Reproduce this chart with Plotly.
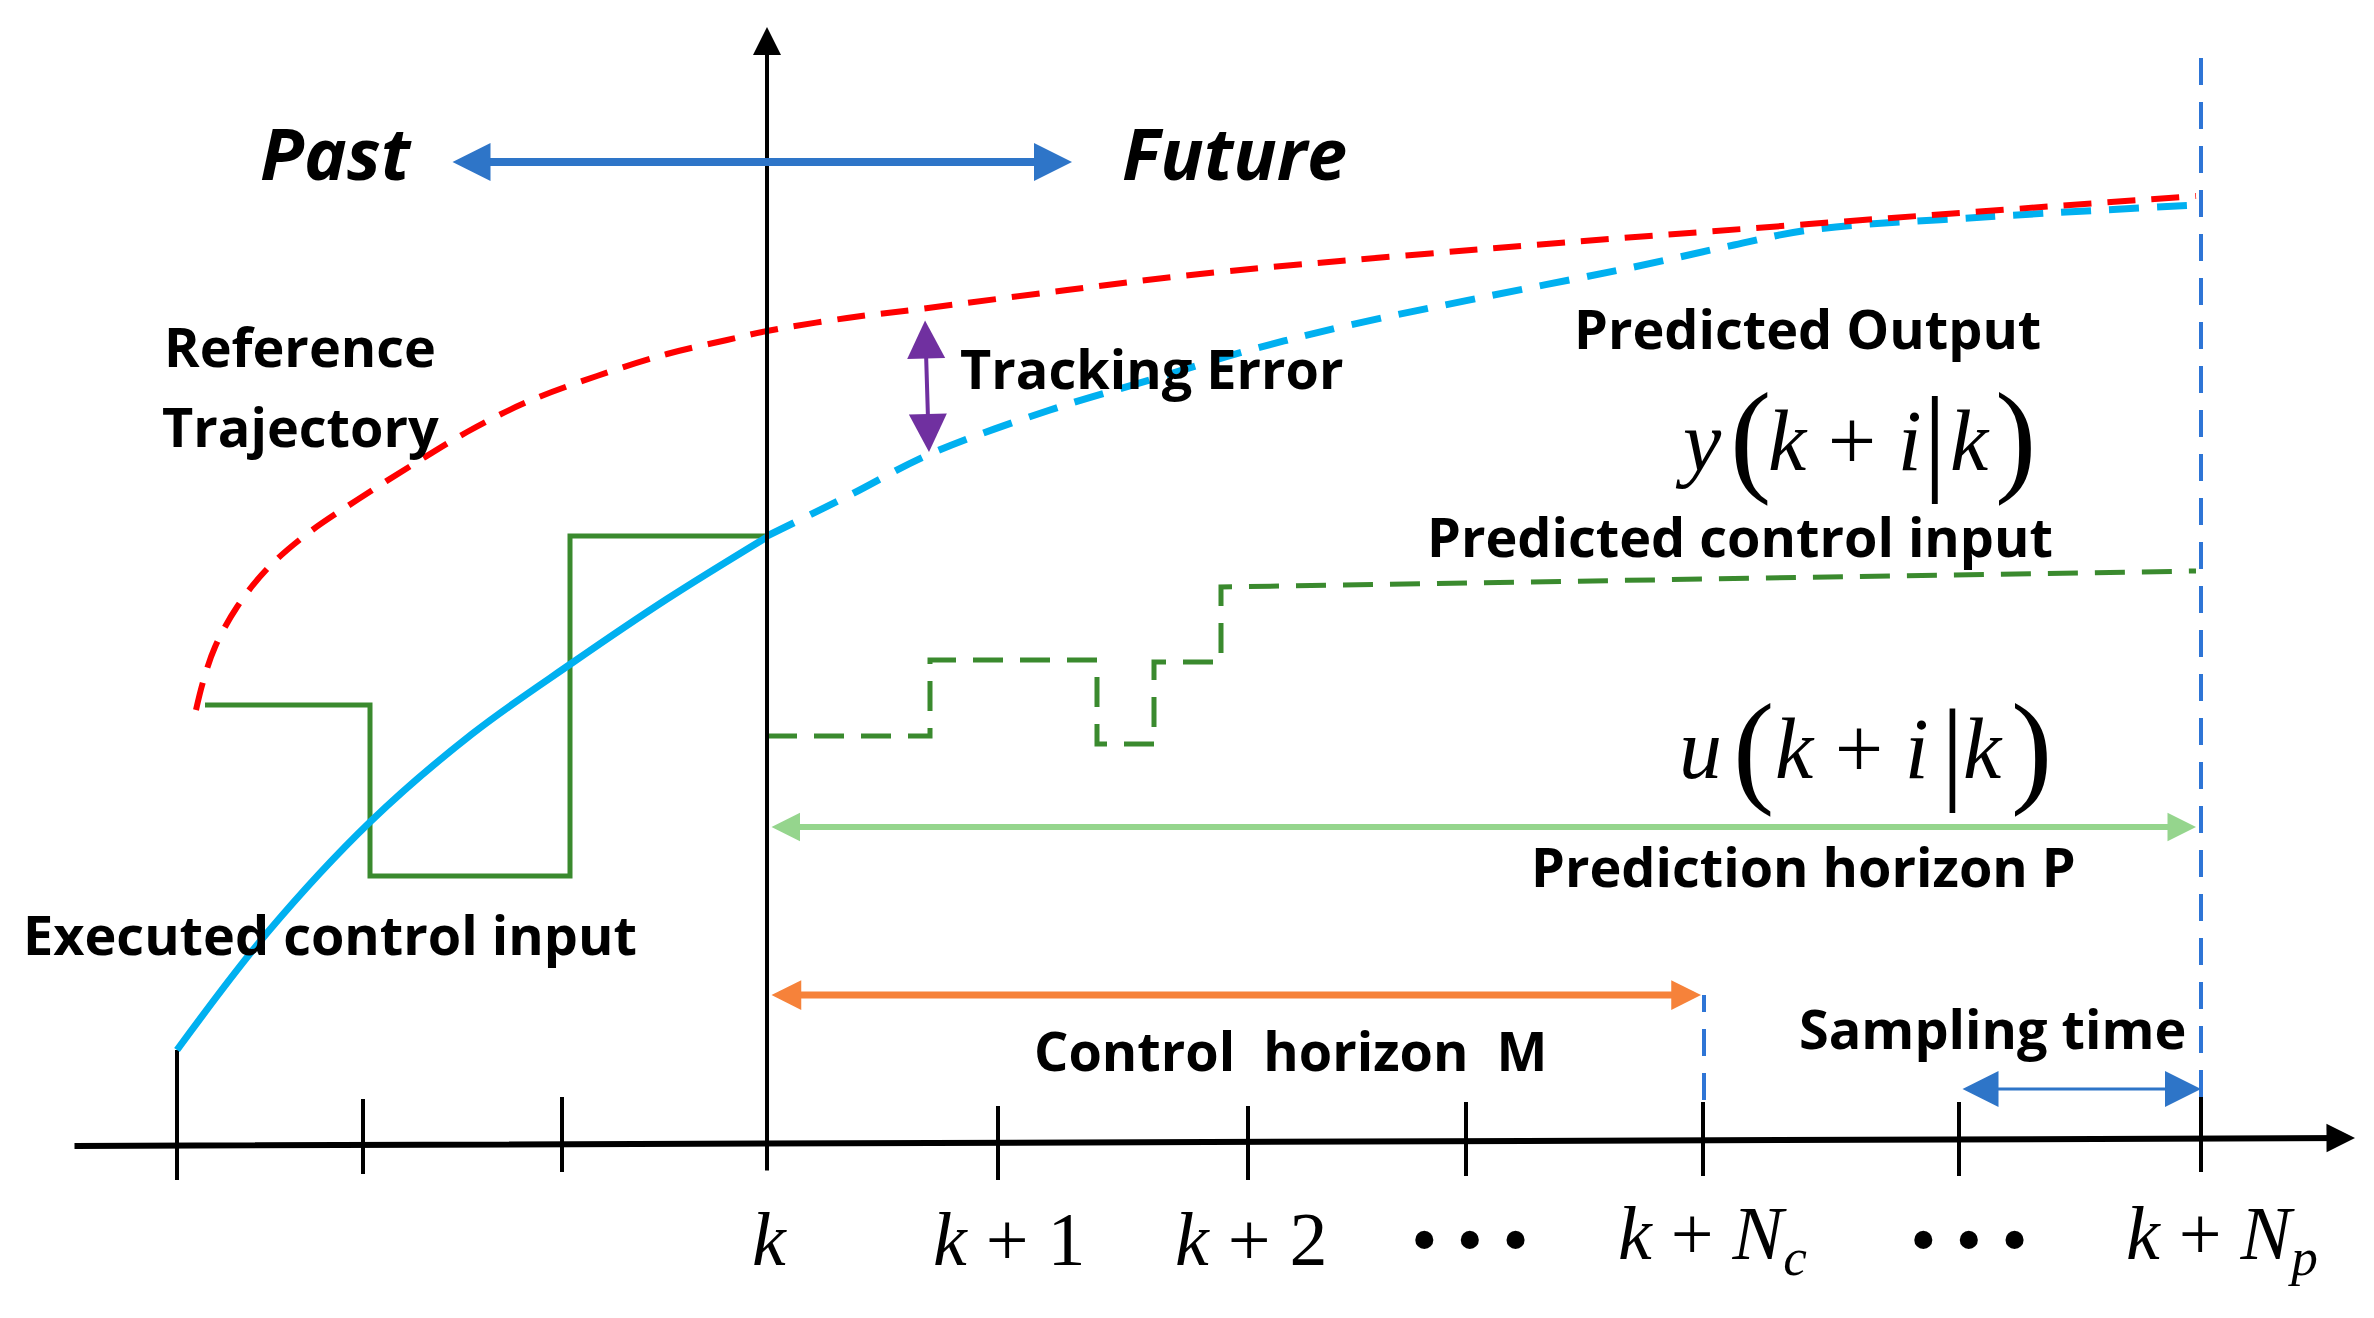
import plotly.graph_objects as go

# drawing units: k sits at t = 0, the time axis at y = 0 (1 unit = 100 px)
sample_t = [-5.90, -4.04, -2.05, 0.0, 2.31, 4.81, 6.99, 9.36, 11.92, 14.34]
tick_top = [0.92, 0.43, 0.45, 0.0, 0.36, 0.36, 0.40, 0.40, 0.40, 0.45]
tick_bot = [-0.38, -0.32, -0.30, 0.0, -0.38, -0.38, -0.34, -0.34, -0.34, -0.30]

label_t = [0.02, 2.42, 4.84, 7.03, 9.45, 12.02, 14.55]
label_text = ["<i>k</i>", "<i>k</i> + 1", "<i>k</i> + 2", "\u2022 \u2022 \u2022",
              "<i>k</i> + <i>N</i><sub><i>c</i></sub>", "\u2022 \u2022 \u2022",
              "<i>k</i> + <i>N</i><sub><i>p</i></sub>"]

# reference trajectory (red dashed)
ref_t = [-5.71, -5.64, -5.52, -5.30, -5.00, -4.60, -4.10, -3.50, -3.00, -2.40, -1.70,
         -1.00, -0.40, 0.0, 0.80, 1.53, 3.00, 4.33, 7.17, 10.42, 14.29]
ref_y = [4.32, 4.60, 4.95, 5.35, 5.73, 6.08, 6.42, 6.80, 7.10, 7.40, 7.66,
         7.88, 8.02, 8.11, 8.24, 8.33, 8.52, 8.68, 8.93, 9.18, 9.46]

# measured output (cyan solid) and predicted output (cyan dashed)
out_past_t = [-5.90, -5.00, -3.97, -2.95, -1.95, -1.00, 0.0]
out_past_y = [0.92, 2.09, 3.20, 4.08, 4.79, 5.43, 6.05]
out_pred_t = [0.0, 0.83, 1.63, 2.83, 3.83, 4.83, 5.83, 7.17, 8.67, 9.67, 10.42, 12.17, 14.29]
out_pred_y = [6.06, 6.47, 6.88, 7.32, 7.62, 7.92, 8.17, 8.45, 8.75, 8.97, 9.12, 9.25, 9.37]

# executed control input (green steps) and predicted control input (green dashed)
u_past_t = [-5.62, -3.97, -1.97, 0.0]
u_past = [4.37, 2.66, 6.06, 6.06]
u_pred_t = [0.0, 1.63, 1.63, 3.30, 3.30, 3.87, 3.87, 4.54, 4.54, 14.29]
u_pred = [4.06, 4.06, 4.82, 4.82, 3.98, 3.98, 4.80, 4.80, 5.55, 5.71]

# arrows: (tail t, tail y, head t, head y, colour, width, head size, double)
arrows = [
    (-6.94, -0.04, 15.88, 0.04, "black", 6, 0.95, False),      # time axis
    (0.0, -0.30, 0.0, 11.15, "black", 4, 1.4, False),          # vertical axis
    (-3.16, 9.80, 3.05, 9.80, "#2e75c8", 8, 0.95, True),       # past / future
    (1.58, 8.23, 1.62, 6.90, "#7030a0", 4, 1.9, True),         # tracking error
    (0.03, 3.15, 14.29, 3.15, "#95d58d", 6, 0.95, True),       # prediction horizon
    (0.03, 1.47, 9.34, 1.47, "#f6823a", 7, 0.85, True),        # control horizon
    (11.94, 0.53, 14.34, 0.53, "#2e75c8", 3, 2.4, True),       # sampling time
]

# dashed boundary lines (t, bottom, top)
bounds = [(14.34, 0.45, 10.84), (9.37, 0.42, 1.47)]

SANS = "Open Sans"
SERIF = "Liberation Serif"

# (text, t, y, size, italic)
labels = [
    ("Past", -4.31, 9.90, 72, True),
    ("Future", 4.67, 9.90, 72, True),
    ("Reference", -4.67, 7.96, 54, False),
    ("Trajectory", -4.67, 7.16, 54, False),
    ("Tracking Error", 3.84, 7.74, 54, False),
    ("Predicted Output", 10.40, 8.14, 54, False),
    ("Predicted control input", 9.73, 6.06, 54, False),
    ("Prediction horizon P", 10.36, 2.76, 54, False),
    ("Executed control input", -4.37, 2.08, 54, False),
    ("Control&nbsp; horizon&nbsp; M", 5.23, 0.92, 54, False),
    ("Sampling time", 12.25, 1.14, 54, False),
]

# y(k+i|k) and u(k+i|k) built from pieces: (text, t, y, size)
math_pieces = [
    ("<i>y</i>", 9.31, 7.01, 86), ("(", 9.83, 7.05, 124),
    ("<i>k</i> + <i>i</i>", 10.78, 7.01, 86), ("|", 11.68, 7.03, 118),
    ("<i>k</i>", 12.03, 7.01, 86), (")", 12.48, 7.05, 124),
    ("<i>u</i>", 9.33, 3.93, 86), ("(", 9.86, 3.94, 124),
    ("<i>k</i> + <i>i</i>", 10.85, 3.93, 86), ("|", 11.85, 3.92, 114),
    ("<i>k</i>", 12.16, 3.93, 86), (")", 12.64, 3.94, 124),
]

fig = go.Figure()

tx, ty = [], []
for t, a, b in zip(sample_t, tick_top, tick_bot):
    tx += [t, t, None]
    ty += [a, b, None]
fig.add_trace(go.Scatter(x=tx, y=ty, mode="lines", line=dict(color="black", width=4)))

bx, by = [], []
for t, a, b in bounds:
    bx += [t, t, None]
    by += [a, b, None]
fig.add_trace(go.Scatter(x=bx, y=by, mode="lines",
                         line=dict(color="#2e75d6", width=4, dash="27px,17px")))

fig.add_trace(go.Scatter(x=u_past_t, y=u_past, mode="lines", line_shape="hv",
                         line=dict(color="#3a8a2e", width=5)))
fig.add_trace(go.Scatter(x=u_pred_t, y=u_pred, mode="lines",
                         line=dict(color="#3a8a2e", width=5, dash="30px,17px")))
fig.add_trace(go.Scatter(x=out_past_t, y=out_past_y, mode="lines", line_shape="spline",
                         line=dict(color="#00b0f0", width=7)))
fig.add_trace(go.Scatter(x=out_pred_t, y=out_pred_y, mode="lines", line_shape="spline",
                         line=dict(color="#00b0f0", width=7, dash="30px,18px")))
fig.add_trace(go.Scatter(x=ref_t, y=ref_y, mode="lines", line_shape="spline",
                         line=dict(color="#ff0000", width=6, dash="28px,16px")))

for x0, y0, x1, y1, col, w, hs, both in arrows:
    fig.add_annotation(x=x1, y=y1, ax=x0, ay=y0, xref="x", yref="y", axref="x", ayref="y",
                       text="", showarrow=True, arrowhead=2, arrowsize=hs, arrowwidth=w,
                       arrowcolor=col, arrowside="end+start" if both else "end",
                       startarrowhead=2, startarrowsize=hs)

for txt, x, y, size, it in labels:
    fig.add_annotation(x=x, y=y, text=txt, showarrow=False, xanchor="center", yanchor="middle",
                       font=dict(family=SANS, size=size, color="black", weight="bold",
                                 style="italic" if it else "normal"))

for txt, x, y, size in math_pieces:
    fig.add_annotation(x=x, y=y, text=txt, showarrow=False, xanchor="center", yanchor="middle",
                       font=dict(family=SERIF, size=size, color="black"))

for t, txt in zip(label_t, label_text):
    fig.add_annotation(x=t, y=-0.97, text=txt, showarrow=False, xanchor="center", yanchor="middle",
                       font=dict(family=SERIF, size=76, color="black"))

# the page adds an 8 px body margin, so the figure is 8 px smaller and the ranges shifted
fig.update_layout(width=2366, height=1310, margin=dict(l=0, r=0, t=0, b=0),
                  plot_bgcolor="white", paper_bgcolor="white", showlegend=False)
fig.update_xaxes(range=[-7.59, 16.07], visible=False, fixedrange=True)
fig.update_yaxes(range=[-1.76, 11.34], visible=False, fixedrange=True)

fig.write_html("out.html")
